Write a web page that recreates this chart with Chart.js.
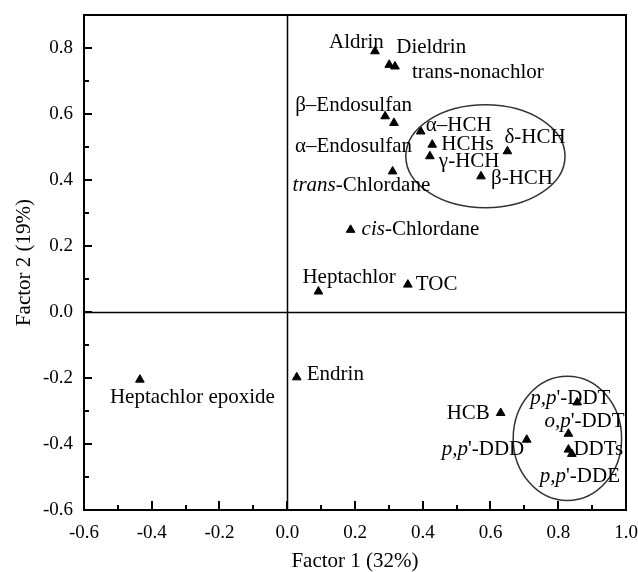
<!DOCTYPE html>
<html>
<head>
<meta charset="utf-8">
<script src="https://cdn.jsdelivr.net/npm/chart.js@4/dist/chart.umd.min.js"></script>
<style>
    html, body { margin: 0; padding: 0; background: #fff; }
    #wrap { width: 638px; height: 572px; }
</style>
</head>
<body>
<div id="wrap"><canvas id="chart" width="638" height="572"></canvas></div>
<script>
(function () {
    'use strict';

    // Loadings; '*' toggles italic in a name
    const compounds = [
        'Aldrin', 'Dieldrin', 'trans-nonachlor', 'β–Endosulfan', 'α–Endosulfan',
        '*trans*-Chlordane', 'α–HCH', 'HCHs', 'γ-HCH', 'δ-HCH', 'β-HCH',
        '*cis*-Chlordane', 'Heptachlor', 'TOC', 'Endrin', 'Heptachlor epoxide',
        'HCB', "*p,p*'-DDT", "*o,p*'-DDT", "*p,p*'-DDD", 'DDTs', "*p,p*'-DDE"
    ];
    const factor1 = [
        0.259, 0.301, 0.318, 0.289, 0.315,
        0.311, 0.394, 0.428, 0.421, 0.650, 0.572,
        0.187, 0.092, 0.356, 0.028, -0.435,
        0.630, 0.856, 0.830, 0.707, 0.830, 0.840
    ];
    const factor2 = [
        0.790, 0.749, 0.744, 0.593, 0.573,
        0.426, 0.547, 0.507, 0.472, 0.487, 0.411,
        0.249, 0.062, 0.083, -0.198, -0.205,
        -0.306, -0.274, -0.369, -0.387, -0.417, -0.430
    ];

    // label offsets from the marker, px (left edge, text middle)
    const labelDx = [-46, 7, 17, -90, -99, -100, 5, 9, 9, -3, 10, 11, -16, 8, 10, -30, -54, -47, -24, -85, 5, -32];
    const labelDy = [-9, -17, 6, -11, 24, 14, -6, 0, 5, -14, 2, 0, -14, 0, -3, 18, 1, -4, -12, 10, 0, 23];

    // grouping ellipses in factor units: [cx, cy, rx, ry]
    const hchGroup = [0.585, 0.472, 0.235, 0.156];
    const ddtGroup = [0.827, -0.383, 0.160, 0.188];

    const xRange = [-0.6, 1.0];
    const yRange = [-0.6, 0.9];
    const tickStep = 0.1;

    const SERIF = '"Liberation Serif", "Times New Roman", serif';

    function isMajor(v) {
        return Math.round(v * 10) % 2 === 0;
    }

    function tickLabel(v) {
        return isMajor(v) ? Number(v).toFixed(1) : '';
    }

    const framePlugin = {
        id: 'frame',
        afterDatasetsDraw: function (chart) {
            const { ctx, chartArea: a, scales: { x, y } } = chart;
            ctx.save();
            ctx.strokeStyle = '#000';

            // zero lines
            ctx.lineWidth = 1.5;
            const x0 = Math.round(x.getPixelForValue(0)) + 0.5;
            const y0 = Math.round(y.getPixelForValue(0)) + 0.5;
            ctx.beginPath();
            ctx.moveTo(x0, a.top); ctx.lineTo(x0, a.bottom);
            ctx.moveTo(a.left, y0); ctx.lineTo(a.right, y0);
            ctx.stroke();

            // inward ticks on left and bottom
            ctx.lineWidth = 2;
            ctx.beginPath();
            y.ticks.forEach(function (t) {
                const py = Math.round(y.getPixelForValue(t.value));
                const len = isMajor(t.value) ? 8 : 5;
                ctx.moveTo(a.left, py); ctx.lineTo(a.left + len, py);
            });
            x.ticks.forEach(function (t) {
                const px = Math.round(x.getPixelForValue(t.value));
                const len = isMajor(t.value) ? 9 : 5;
                ctx.moveTo(px, a.bottom); ctx.lineTo(px, a.bottom - len);
            });
            ctx.stroke();

            ctx.lineWidth = 2;
            ctx.strokeRect(a.left, a.top, a.right - a.left, a.bottom - a.top);

            // group ellipses
            ctx.strokeStyle = '#333';
            ctx.lineWidth = 1.5;
            [hchGroup, ddtGroup].forEach(function (g) {
                const cx = x.getPixelForValue(g[0]);
                const cy = y.getPixelForValue(g[1]);
                const rx = Math.abs(x.getPixelForValue(g[0] + g[2]) - cx);
                const ry = Math.abs(y.getPixelForValue(g[1] + g[3]) - cy);
                ctx.beginPath();
                ctx.ellipse(cx, cy, rx, ry, 0, 0, Math.PI * 2);
                ctx.stroke();
            });
            ctx.restore();
        }
    };

    const labelPlugin = {
        id: 'pointLabels',
        afterDatasetsDraw: function (chart) {
            const ctx = chart.ctx;
            const meta = chart.getDatasetMeta(0);
            ctx.save();
            ctx.fillStyle = '#000';
            ctx.textBaseline = 'middle';
            ctx.textAlign = 'left';
            meta.data.forEach(function (pt, i) {
                let cx = pt.x + labelDx[i];
                const cy = pt.y + labelDy[i];
                compounds[i].split('*').forEach(function (part, k) {
                    if (!part) {
                        return;
                    }
                    ctx.font = (k % 2 ? 'italic ' : '') + '21px ' + SERIF;
                    ctx.fillText(part, cx, cy);
                    cx += ctx.measureText(part).width;
                });
            });
            ctx.restore();
        }
    };

    const points = factor1.map(function (v, i) {
        return { x: v, y: factor2[i] };
    });

    new Chart(document.getElementById('chart'), {
        type: 'scatter',
        data: {
            datasets: [{
                data: points,
                pointStyle: 'triangle',
                pointRadius: 5,
                backgroundColor: '#000',
                borderColor: '#000',
                borderWidth: 1,
            }],
        },
        options: {
            responsive: false,
            animation: false,
            events: [],
            layout: { padding: { top: 15, right: 12, left: 0, bottom: 0 } },
            plugins: {
                legend: { display: false },
                tooltip: { enabled: false },
            },
            scales: {
                x: {
                    type: 'linear',
                    min: xRange[0],
                    max: xRange[1],
                    grid: { display: false, drawTicks: false },
                    border: { display: false },
                    ticks: {
                        stepSize: tickStep,
                        autoSkip: false,
                        maxRotation: 0,
                        padding: 12,
                        color: '#000',
                        font: { family: SERIF, size: 19 },
                        callback: tickLabel,
                    },
                    title: {
                        display: true,
                        text: 'Factor 1 (32%)',
                        color: '#000',
                        font: { family: SERIF, size: 21, lineHeight: 1 },
                        padding: { top: 0, bottom: 0 },
                    },
                    afterFit: function (scale) {
                        scale.height = 62;
                        scale.paddingLeft = 0;
                        scale.paddingRight = 0;
                    },
                },
                y: {
                    type: 'linear',
                    min: yRange[0],
                    max: yRange[1],
                    grid: { display: false, drawTicks: false },
                    border: { display: false },
                    ticks: {
                        stepSize: tickStep,
                        autoSkip: false,
                        padding: 11,
                        color: '#000',
                        font: { family: SERIF, size: 19 },
                        callback: tickLabel,
                    },
                    title: {
                        display: true,
                        text: 'Factor 2 (19%)',
                        color: '#000',
                        font: { family: SERIF, size: 21, lineHeight: 1 },
                        padding: { top: 14, bottom: 0 },
                    },
                    afterFit: function (scale) {
                        scale.width = 84;
                        scale.paddingTop = 0;
                        scale.paddingBottom = 0;
                    },
                },
            },
        },
        plugins: [framePlugin, labelPlugin],
    });
})();
</script>
</body>
</html>
